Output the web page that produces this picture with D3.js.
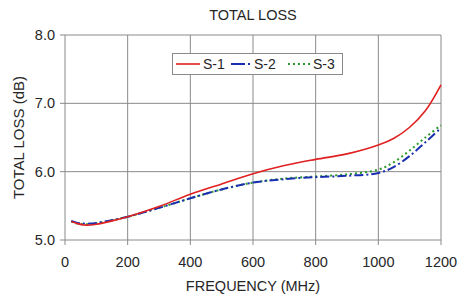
<!DOCTYPE html>
<html>
<head>
<meta charset="UTF-8">
<style>
  * { margin: 0; padding: 0; }
  html, body { width: 458px; height: 298px; background: #fff; overflow: hidden; }
  svg { display: block; font-family: "Liberation Sans", Arial, sans-serif; }
</style>
</head>
<body>
<svg id="chart" width="458" height="298"></svg>
<script src="https://cdn.jsdelivr.net/npm/d3@7/dist/d3.min.js"></script>
<script>
// frequency (MHz) and total loss (dB)
var freq = [20, 40, 60, 80, 100, 150, 200, 300, 400, 500, 600, 700, 800, 900, 1000, 1050, 1100, 1150, 1200];
var s1 = [5.27, 5.24, 5.22, 5.22, 5.23, 5.28, 5.34, 5.49, 5.67, 5.82, 5.97, 6.09, 6.18, 6.26, 6.39, 6.49, 6.65, 6.89, 7.27];
var s2 = [5.28, 5.25, 5.24, 5.24, 5.25, 5.29, 5.34, 5.47, 5.61, 5.74, 5.84, 5.89, 5.92, 5.94, 5.98, 6.07, 6.23, 6.43, 6.64];
var s3 = [5.27, 5.24, 5.23, 5.23, 5.24, 5.29, 5.34, 5.47, 5.61, 5.74, 5.84, 5.90, 5.93, 5.96, 6.03, 6.14, 6.31, 6.50, 6.68];
var seriesNames = ["S-1", "S-2", "S-3"];
var xTicks = [0, 200, 400, 600, 800, 1000, 1200];
var yTicks = [5, 6, 7, 8];

var svg = d3.select("#chart");
var plotL = 65, plotR = 441, plotT = 35, plotB = 240;

var x = d3.scaleLinear().domain([0, 1200]).range([plotL, plotR]);
var y = d3.scaleLinear().domain([5, 8]).range([plotB, plotT]);

var grid = "#8a8a8a";
var ink = "#262626";

// vertical grid
svg.append("g").selectAll("line").data(xTicks).enter().append("line")
  .attr("x1", function(d) { return x(d); }).attr("x2", function(d) { return x(d); })
  .attr("y1", plotT).attr("y2", plotB + 5)
  .attr("stroke", grid).attr("stroke-width", 1);

// horizontal grid
svg.append("g").selectAll("line").data(yTicks).enter().append("line")
  .attr("x1", plotL - 5).attr("x2", plotR)
  .attr("y1", function(d) { return y(d); }).attr("y2", function(d) { return y(d); })
  .attr("stroke", grid).attr("stroke-width", 1);

// tick labels
svg.append("g").selectAll("text").data(xTicks).enter().append("text")
  .attr("x", function(d) { return x(d); }).attr("y", 267)
  .attr("text-anchor", "middle").attr("font-size", 14.5).attr("fill", ink)
  .text(function(d) { return d; });

svg.append("g").selectAll("text").data(yTicks).enter().append("text")
  .attr("x", 55).attr("y", function(d) { return y(d) + 5; })
  .attr("text-anchor", "end").attr("font-size", 14.5).attr("fill", ink)
  .text(function(d) { return d3.format(".1f")(d); });

// titles
svg.append("text").attr("x", (plotL + plotR) / 2).attr("y", 20)
  .attr("text-anchor", "middle").attr("font-size", 14.5).attr("fill", ink).text("TOTAL LOSS");
svg.append("text").attr("x", (plotL + plotR) / 2).attr("y", 291)
  .attr("text-anchor", "middle").attr("font-size", 14.5).attr("fill", ink).text("FREQUENCY (MHz)");
svg.append("text").attr("transform", "translate(23.5," + ((plotT + plotB) / 2) + ") rotate(-90)")
  .attr("text-anchor", "middle").attr("font-size", 15).attr("fill", ink).text("TOTAL LOSS (dB)");

// series
var styles = [
  { color: "#e02020", dash: null, width: 1.6 },
  { color: "#1a2fb0", dash: "9,3,2,3", width: 2 },
  { color: "#2a9a2a", dash: "2,3", width: 2 }
];
var data = [s1, s2, s3];

var line = d3.line()
  .x(function(d, i) { return x(freq[i]); })
  .y(function(d) { return y(d); })
  .curve(d3.curveCatmullRom.alpha(0.5));

// draw green then blue then red so red ends on top
[2, 1, 0].forEach(function(k) {
  svg.append("path").datum(data[k])
    .attr("fill", "none")
    .attr("stroke", styles[k].color)
    .attr("stroke-width", styles[k].width)
    .attr("stroke-dasharray", styles[k].dash)
    .attr("d", line);
});

// legend
var lg = svg.append("g");
lg.append("rect").attr("x", 172.5).attr("y", 53.5).attr("width", 170).attr("height", 21)
  .attr("fill", "#fff").attr("stroke", "#8a8a8a").attr("stroke-width", 1);
var legendLineX = [176, 231, 288];
var legendLineW = [24, 20, 22];
var legendTextX = [203, 254, 313];
seriesNames.forEach(function(name, k) {
  lg.append("line")
    .attr("x1", legendLineX[k]).attr("x2", legendLineX[k] + legendLineW[k])
    .attr("y1", 64).attr("y2", 64)
    .attr("stroke", styles[k].color).attr("stroke-width", styles[k].width)
    .attr("stroke-dasharray", k === 1 ? "14,3,2,3" : styles[k].dash);
  lg.append("text").attr("x", legendTextX[k]).attr("y", 69)
    .attr("font-size", 14).attr("fill", ink).text(name);
});
</script>
</body>
</html>
